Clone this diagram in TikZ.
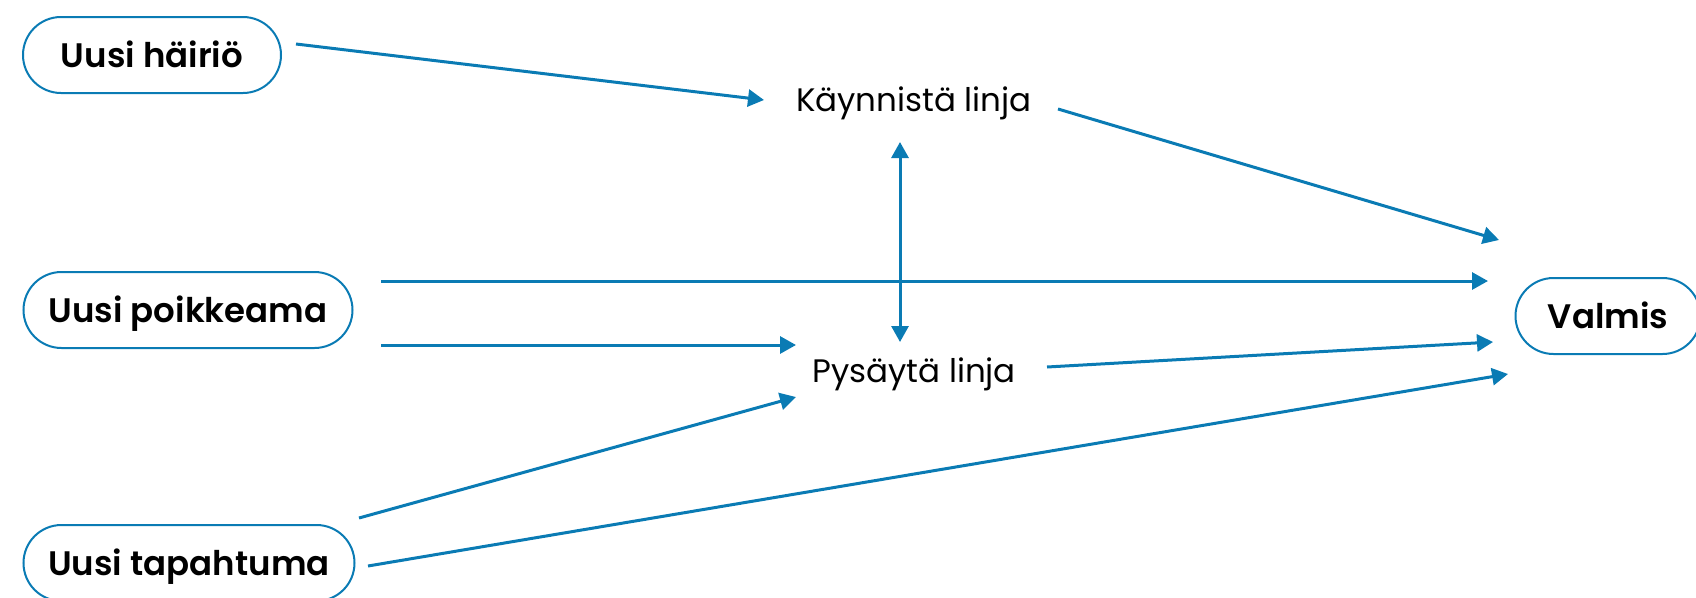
\documentclass[tikz,border=0pt]{standalone}
\usepackage{fontspec}
\setmainfont{Poppins}[BoldFont={Poppins SemiBold}]
\usepackage{tikz}
\usetikzlibrary{arrows.meta,calc}
\definecolor{flowblue}{HTML}{0A7BB4}

\begin{document}
\begin{tikzpicture}[x=1pt,y=-1pt,
            event/.style={draw=flowblue,line width=2pt,rounded corners=38pt,
                minimum height=76pt,inner sep=0pt,text height=28pt,text depth=4pt,
                font=\fontsize{34}{40}\selectfont\bfseries},
            action/.style={inner sep=0pt,text height=28pt,text depth=4pt,
                font=\fontsize{32.5}{38}\selectfont},
            flow/.style={draw=flowblue,line width=3pt,-{Triangle[length=16pt,width=17pt]}}]
            \useasboundingbox (0,0) rectangle (1696,597);
            \node[event,minimum width=258pt] (hairio) at (152,55) {Uusi häiriö};
            \node[event,minimum width=329pt] (poikkeama) at (188,310) {Uusi poikkeama};
            \node[event,minimum width=331pt] (tapahtuma) at (189,563) {Uusi tapahtuma};
            \node[event,minimum width=185pt] (valmis) at (1608,316) {Valmis};
            \node[action] (kaynnista) at (914,99) {Käynnistä linja};
            \node[action] (pysayta) at (914,370) {Pysäytä linja};
            \draw[flow] ($(hairio)+(144,-11)$) -- ($(kaynnista)+(-150,1)$);
            \draw[flow] ($(kaynnista)+(144,10)$) -- ($(valmis)+(-109,-76)$);
            \draw[flow] ($(poikkeama)+(193,-29)$) -- ($(valmis)+(-120,-35)$);
            \draw[flow] ($(poikkeama)+(193,35)$) -- ($(pysayta)+(-118,-25)$);
            \draw[flow] ($(pysayta)+(133,-3)$) -- ($(valmis)+(-115,26)$);
            \draw[flow] ($(tapahtuma)+(170,-45)$) -- ($(pysayta)+(-118,27)$);
            \draw[flow] ($(tapahtuma)+(179,3)$) -- ($(valmis)+(-100,58)$);
            \draw[flow,{Triangle[length=16pt,width=17pt]}-{Triangle[length=16pt,width=17pt]}] ($(kaynnista)+(-14,43)$) -- ($(pysayta)+(-14,-28)$);
        \end{tikzpicture}
\end{document}
